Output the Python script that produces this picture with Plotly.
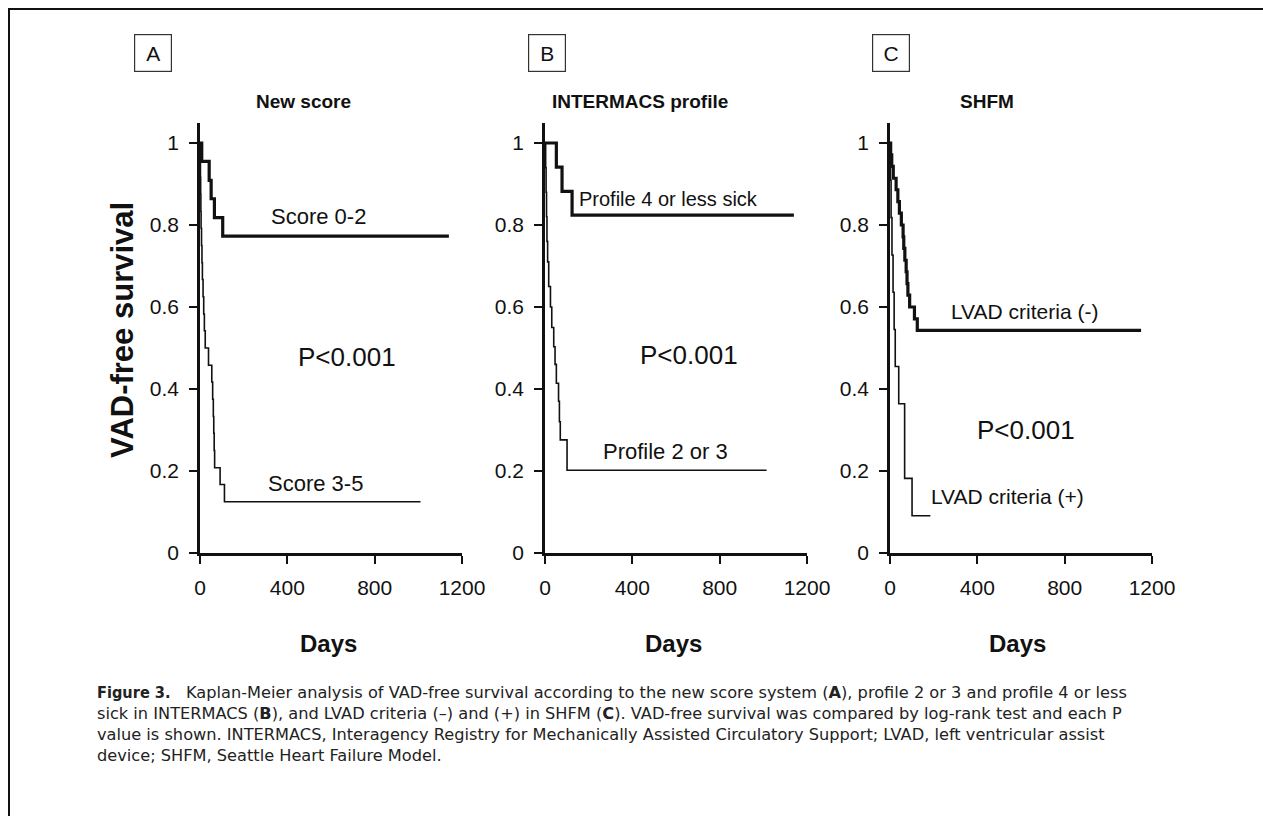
import plotly.graph_objects as go

W, H = 1263, 816

# Panel A: new score
a_low_days = [0, 8, 42, 51, 66, 104, 1140]
a_low_surv = [1.0, 0.955, 0.909, 0.864, 0.818, 0.773, 0.773]
a_high_days = [0, 1, 2, 3, 4, 5, 7, 9, 11, 14, 17, 20, 24, 39, 54, 58, 61, 63, 65, 67, 92, 112, 1010]
a_high_surv = [1.0, 0.958, 0.917, 0.875, 0.833, 0.792, 0.75, 0.708, 0.667, 0.625, 0.583, 0.542,
               0.5, 0.458, 0.417, 0.375, 0.333, 0.292, 0.25, 0.208, 0.167, 0.125, 0.125]

# Panel B: INTERMACS profile
b_p4_days = [0, 52, 78, 124, 1140]
b_p4_surv = [1.0, 0.941, 0.882, 0.824, 0.824]
b_p23_days = [0, 3, 5, 7, 9, 12, 17, 25, 31, 40, 46, 52, 62, 66, 70, 101, 1015]
b_p23_surv = [1.0, 0.94, 0.88, 0.82, 0.76, 0.71, 0.65, 0.6, 0.55, 0.503, 0.46, 0.414,
              0.37, 0.32, 0.276, 0.202, 0.202]

# Panel C: SHFM
c_neg_days = [0, 3, 8, 15, 28, 36, 43, 52, 60, 63, 68, 74, 78, 82, 90, 112, 125, 1150]
c_neg_surv = [1.0, 0.971, 0.943, 0.914, 0.886, 0.857, 0.829, 0.8, 0.771, 0.743, 0.714,
              0.686, 0.657, 0.629, 0.6, 0.571, 0.543, 0.543]
c_pos_days = [0, 2, 5, 9, 14, 19, 24, 40, 67, 101, 185]
c_pos_surv = [1.0, 0.909, 0.818, 0.727, 0.636, 0.545, 0.455, 0.364, 0.182, 0.091, 0.091]

x_ticks = [0, 400, 800, 1200]
y_ticks = [0, 0.2, 0.4, 0.6, 0.8, 1.0]
y_tick_text = ["0", "0.2", "0.4", "0.6", "0.8", "1"]

panel_titles = ["New score", "INTERMACS profile", "SHFM"]
panel_letters = ["A", "B", "C"]

FONT = "Liberation Sans, Arial, sans-serif"
CAPTION_FONT = "DejaVu Sans, Liberation Sans, sans-serif"
BLACK = "#111111"


def px(x):
    return x / W


def py(y):
    return 1 - y / H


fig = go.Figure()

panels = [
    ("x", "y", [(a_low_days, a_low_surv, 3.2), (a_high_days, a_high_surv, 1.6)]),
    ("x2", "y2", [(b_p4_days, b_p4_surv, 3.2), (b_p23_days, b_p23_surv, 1.6)]),
    ("x3", "y3", [(c_neg_days, c_neg_surv, 3.2), (c_pos_days, c_pos_surv, 1.6)]),
]
for xa, ya, curves in panels:
    for days, surv, lw in curves:
        fig.add_trace(go.Scatter(x=days, y=surv, xaxis=xa, yaxis=ya, mode="lines",
                                 line=dict(color=BLACK, width=lw, shape="hv"),
                                 showlegend=False, hoverinfo="skip"))

left_edges = [200, 545, 890]
plot_w = 262
y_dom = [py(553), py(122.5)]

axis_common = dict(showline=True, linecolor=BLACK, linewidth=2.5, ticks="outside",
                   ticklen=8, tickwidth=2.2, tickcolor=BLACK, showgrid=False,
                   zeroline=False, automargin=False,
                   tickfont=dict(family=FONT, size=21, color=BLACK))

layout = dict(template="none", width=W, height=H, autosize=False,
              margin=dict(l=0, r=0, t=0, b=0, pad=0),
              paper_bgcolor="white", plot_bgcolor="white", showlegend=False)
for i, left in enumerate(left_edges):
    sx = "" if i == 0 else str(i + 1)
    layout["xaxis" + sx] = dict(axis_common, domain=[px(left), px(left + plot_w)],
                                range=[0, 1200], tickvals=x_ticks, anchor="y" + sx,
                                ticklabelstandoff=6)
    layout["yaxis" + sx] = dict(axis_common, domain=y_dom, range=[0, 1.05],
                                tickvals=y_ticks, ticktext=y_tick_text,
                                anchor="x" + sx, ticklabelstandoff=6)
fig.update_layout(**layout)

annotations = []


def label(xp, yp, text, size, bold=False, **kw):
    t = "<b>" + text + "</b>" if bold else text
    d = dict(x=px(xp), y=py(yp), xref="paper", yref="paper", text=t, showarrow=False,
             xanchor="center", yanchor="middle",
             font=dict(family=FONT, size=size, color=BLACK))
    d.update(kw)
    annotations.append(d)


# panel titles, letter boxes and x-axis titles
title_centers = [303, 640, 987]
letter_centers = [153, 547, 891]
for i, (t, cx, lt, lx) in enumerate(zip(panel_titles, title_centers, panel_letters, letter_centers)):
    label(cx, 101, t, 19, bold=True)
    label(lx, 53, lt, 21, bordercolor="#333333", borderwidth=1.2, borderpad=6,
          width=24, height=24)
    label(left_edges[i] + plot_w / 2 - 3, 643, "Days", 24, bold=True)

# y-axis title
label(122, 330, "VAD-free survival", 31, bold=True, textangle=-90)

# curve labels and P values (data coordinates)
labels = [
    ("x", "y", 545, 0.785, "Score 0-2", "bottom", 22),
    ("x", "y", 527, 0.135, "Score 3-5", "bottom", 22),
    ("x", "y", 673, 0.478, "P<0.001", "middle", 26),
    ("x2", "y2", 565, 0.832, "Profile 4 or less sick", "bottom", 20),
    ("x2", "y2", 550, 0.212, "Profile 2 or 3", "bottom", 22),
    ("x2", "y2", 660, 0.483, "P<0.001", "middle", 26),
    ("x3", "y3", 614, 0.556, "LVAD criteria (-)", "bottom", 21),
    ("x3", "y3", 623, 0.30, "P<0.001", "middle", 26),
    ("x3", "y3", 536, 0.137, "LVAD criteria (+)", "middle", 21),
]
for xa, ya, xv, yv, txt, va, size in labels:
    annotations.append(dict(x=xv, y=yv, xref=xa, yref=ya, text=txt, showarrow=False,
                            xanchor="center", yanchor=va,
                            font=dict(family=FONT, size=size, color=BLACK)))

caption_lines = [
    "<b><span style='font-family:\"DejaVu Sans Condensed\", \"Liberation Sans Narrow\"'>Figure 3.</span></b>"
    "   Kaplan-Meier analysis of VAD-free survival according to the new score system (<b>A</b>), "
    "profile 2 or 3 and profile 4 or less",
    "sick in INTERMACS (<b>B</b>), and LVAD criteria (\u2013) and (+) in SHFM (<b>C</b>). "
    "VAD-free survival was compared by log-rank test and each P",
    "value is shown. INTERMACS, Interagency Registry for Mechanically Assisted Circulatory "
    "Support; LVAD, left ventricular assist",
    "device; SHFM, Seattle Heart Failure Model.",
]
annotations.append(dict(x=px(95), y=py(680.5), xref="paper", yref="paper",
                        xanchor="left", yanchor="top", align="left",
                        text="<br>".join(caption_lines), showarrow=False,
                        font=dict(family=CAPTION_FONT, size=16.2, color="#222222")))
fig.update_layout(annotations=annotations)

# outer frame (its right side runs past the page edge)
fig.add_shape(type="rect", xref="paper", yref="paper", x0=px(9), x1=px(1270),
              y0=-0.05, y1=py(9), line=dict(color=BLACK, width=2))

fig.write_html("out.html")
